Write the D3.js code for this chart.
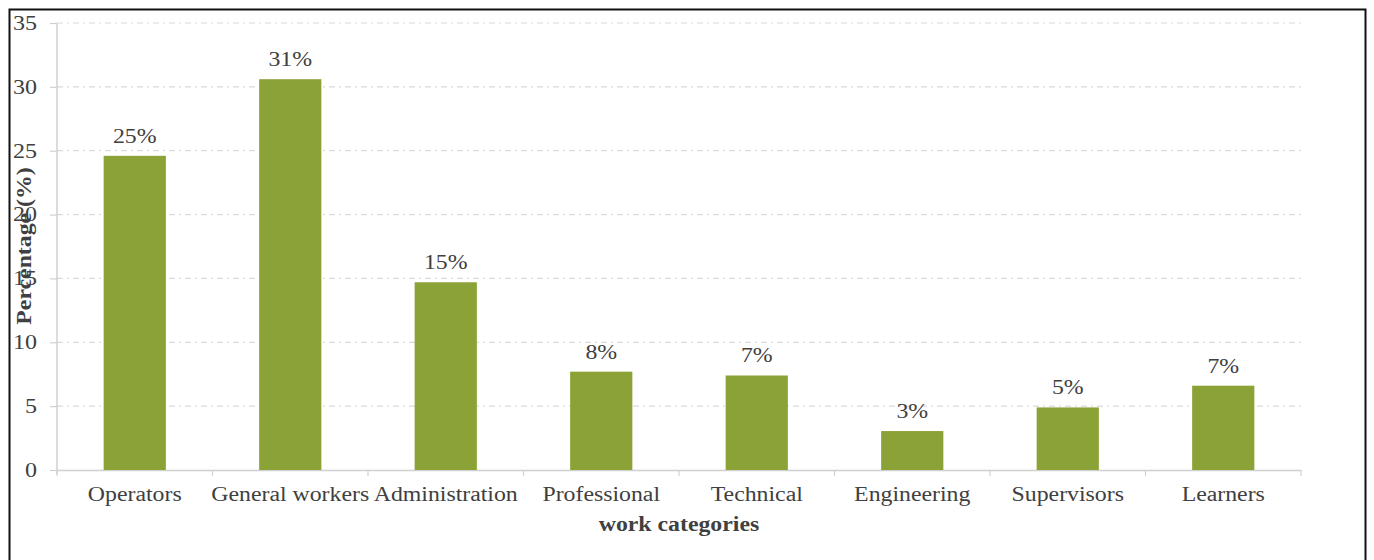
<!DOCTYPE html>
<html>
<head>
<meta charset="utf-8">
<script src="https://cdn.jsdelivr.net/npm/d3@7"></script>
<style>
  html, body { margin: 0; padding: 0; background: #fff; }
  svg { display: block; }
  text { font-family: "Liberation Serif", "DejaVu Serif", serif; fill: #404040; }
</style>
</head>
<body>
<svg id="chart" width="1374" height="560"></svg>
<script>
// Share of employees by work category (%)
const categories = ["Operators", "General workers", "Administration", "Professional",
                    "Technical", "Engineering", "Supervisors", "Learners"];
const percentages = [24.6, 30.6, 14.7, 7.7, 7.4, 3.05, 4.9, 6.6];
const yTicks = [0, 5, 10, 15, 20, 25, 30, 35];

const svg = d3.select("#chart");
const margin = { left: 57, right: 73, top: 23, bottom: 90 };
const W = 1374, H = 560;
const FONT = 20;      // base font size
const STRETCH = 1.19; // horizontal widening of the serif face

// Outer frame
svg.append("rect")
  .attr("x", 9.5).attr("y", 9.5)
  .attr("width", 1356).attr("height", 560)
  .attr("fill", "none").attr("stroke", "#111").attr("stroke-width", 2);

const x = d3.scaleBand()
  .domain(categories)
  .range([margin.left, W - margin.right])
  .paddingInner(0.6).paddingOuter(0.3);

const y = d3.scaleLinear()
  .domain([0, 35])
  .range([H - margin.bottom, margin.top]);

// Horizontal gridlines
svg.append("g").selectAll("line")
  .data(yTicks.filter(d => d > 0))
  .join("line")
  .attr("x1", margin.left).attr("x2", W - margin.right)
  .attr("y1", d => y(d)).attr("y2", d => y(d))
  .attr("stroke", "#d9d9d9").attr("stroke-width", 1.2)
  .attr("stroke-dasharray", "6,4,2,4");

// Y axis
const yAxis = svg.append("g")
  .attr("transform", `translate(${margin.left},0)`)
  .call(d3.axisLeft(y).tickValues(yTicks).tickSize(7).tickPadding(13).tickSizeOuter(0));
yAxis.select(".domain").attr("stroke", "#d0d0d0").attr("stroke-width", 1.5)
  .attr("d", `M0,${y(35)}V${y(0) + 4}`);
yAxis.selectAll(".tick line").attr("stroke", "#d0d0d0").attr("stroke-width", 1.2);
yAxis.selectAll(".tick text")
  .style("font-size", FONT + "px").attr("fill", "#404040")
  .attr("x", -20 / 1.2)
  .attr("transform", "scale(1.2,1)");

// X axis
const xAxis = svg.append("g")
  .attr("transform", `translate(0,${y(0)})`)
  .call(d3.axisBottom(x).tickSize(0).tickPadding(17));
xAxis.select(".domain").attr("stroke", "#d0d0d0").attr("stroke-width", 1.5);
xAxis.selectAll(".tick text")
  .style("font-size", FONT + "px").attr("fill", "#404040")
  .attr("transform", `scale(${STRETCH},1)`);

// Boundary ticks between categories
const edges = d3.range(categories.length + 1)
  .map(i => margin.left + i * (W - margin.right - margin.left) / categories.length);
svg.append("g").selectAll("line")
  .data(edges)
  .join("line")
  .attr("x1", d => d).attr("x2", d => d)
  .attr("y1", y(0)).attr("y2", y(0) + 6)
  .attr("stroke", "#d0d0d0").attr("stroke-width", 1.2);

// Bars
svg.append("g").selectAll("rect")
  .data(categories)
  .join("rect")
  .attr("x", d => x(d))
  .attr("width", x.bandwidth())
  .attr("y", (d, i) => y(percentages[i]))
  .attr("height", (d, i) => y(0) - y(percentages[i]))
  .attr("fill", "#8ba236");

// Value labels
svg.append("g").selectAll("text")
  .data(categories)
  .join("text")
  .attr("transform", (d, i) =>
    `translate(${x(d) + x.bandwidth() / 2},${y(percentages[i]) - 13}) scale(${STRETCH},1)`)
  .attr("text-anchor", "middle")
  .style("font-size", FONT + "px")
  .text((d, i) => Math.round(percentages[i]) + "%");

// Axis titles
svg.append("text")
  .attr("transform", `translate(${(margin.left + W - margin.right) / 2},531) scale(${STRETCH},1)`)
  .attr("text-anchor", "middle")
  .style("font-size", FONT + "px").style("font-weight", "bold")
  .attr("fill", "#262626")
  .text("work categories");

svg.append("text")
  .attr("transform", `translate(31,246) rotate(-90) scale(${STRETCH},1)`)
  .attr("text-anchor", "middle")
  .style("font-size", FONT + "px").style("font-weight", "bold")
  .attr("fill", "#262626")
  .text("Percentage (%)");
</script>
</body>
</html>
